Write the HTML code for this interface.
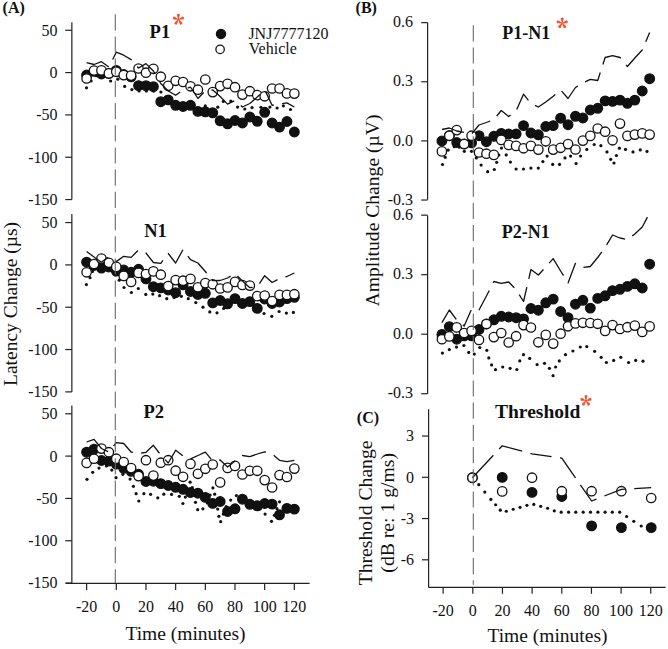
<!DOCTYPE html>
<html><head><meta charset="utf-8"><style>
html,body{margin:0;padding:0;background:#fff;}
svg{display:block;font-family:"Liberation Serif", serif;}
</style></head><body>
<svg width="668" height="649" viewBox="0 0 668 649">
<rect width="668" height="649" fill="#fff"/>
<line x1="71.85" y1="22.20" x2="71.85" y2="199.50" stroke="#222" stroke-width="1.2" />
<line x1="65.25" y1="30.27" x2="71.85" y2="30.27" stroke="#222" stroke-width="1.2" />
<text x="57.60" y="35.67" font-size="16" text-anchor="end" font-weight="normal" fill="#111" >50</text>
<line x1="65.25" y1="72.60" x2="71.85" y2="72.60" stroke="#222" stroke-width="1.2" />
<text x="57.60" y="78.00" font-size="16" text-anchor="end" font-weight="normal" fill="#111" >0</text>
<line x1="65.25" y1="114.92" x2="71.85" y2="114.92" stroke="#222" stroke-width="1.2" />
<text x="57.60" y="120.33" font-size="16" text-anchor="end" font-weight="normal" fill="#111" >-50</text>
<line x1="65.25" y1="157.25" x2="71.85" y2="157.25" stroke="#222" stroke-width="1.2" />
<text x="57.60" y="162.65" font-size="16" text-anchor="end" font-weight="normal" fill="#111" >-100</text>
<line x1="65.25" y1="199.57" x2="71.85" y2="199.57" stroke="#222" stroke-width="1.2" />
<text x="57.60" y="204.97" font-size="16" text-anchor="end" font-weight="normal" fill="#111" >-150</text>
<line x1="71.85" y1="214.00" x2="71.85" y2="392.00" stroke="#222" stroke-width="1.2" />
<line x1="65.25" y1="222.57" x2="71.85" y2="222.57" stroke="#222" stroke-width="1.2" />
<text x="57.60" y="227.97" font-size="16" text-anchor="end" font-weight="normal" fill="#111" >50</text>
<line x1="65.25" y1="264.90" x2="71.85" y2="264.90" stroke="#222" stroke-width="1.2" />
<text x="57.60" y="270.30" font-size="16" text-anchor="end" font-weight="normal" fill="#111" >0</text>
<line x1="65.25" y1="307.22" x2="71.85" y2="307.22" stroke="#222" stroke-width="1.2" />
<text x="57.60" y="312.62" font-size="16" text-anchor="end" font-weight="normal" fill="#111" >-50</text>
<line x1="65.25" y1="349.55" x2="71.85" y2="349.55" stroke="#222" stroke-width="1.2" />
<text x="57.60" y="354.95" font-size="16" text-anchor="end" font-weight="normal" fill="#111" >-100</text>
<line x1="65.25" y1="391.88" x2="71.85" y2="391.88" stroke="#222" stroke-width="1.2" />
<text x="57.60" y="397.27" font-size="16" text-anchor="end" font-weight="normal" fill="#111" >-150</text>
<line x1="71.85" y1="405.60" x2="71.85" y2="583.40" stroke="#222" stroke-width="1.2" />
<line x1="65.25" y1="413.78" x2="71.85" y2="413.78" stroke="#222" stroke-width="1.2" />
<text x="57.60" y="419.18" font-size="16" text-anchor="end" font-weight="normal" fill="#111" >50</text>
<line x1="65.25" y1="456.10" x2="71.85" y2="456.10" stroke="#222" stroke-width="1.2" />
<text x="57.60" y="461.50" font-size="16" text-anchor="end" font-weight="normal" fill="#111" >0</text>
<line x1="65.25" y1="498.43" x2="71.85" y2="498.43" stroke="#222" stroke-width="1.2" />
<text x="57.60" y="503.82" font-size="16" text-anchor="end" font-weight="normal" fill="#111" >-50</text>
<line x1="65.25" y1="540.75" x2="71.85" y2="540.75" stroke="#222" stroke-width="1.2" />
<text x="57.60" y="546.15" font-size="16" text-anchor="end" font-weight="normal" fill="#111" >-100</text>
<line x1="65.25" y1="583.08" x2="71.85" y2="583.08" stroke="#222" stroke-width="1.2" />
<text x="57.60" y="588.48" font-size="16" text-anchor="end" font-weight="normal" fill="#111" >-150</text>
<line x1="65.80" y1="583.40" x2="309.60" y2="583.40" stroke="#222" stroke-width="1.2" />
<line x1="86.63" y1="583.40" x2="86.63" y2="590.00" stroke="#222" stroke-width="1.2" />
<text x="86.63" y="611.80" font-size="16" text-anchor="middle" font-weight="normal" fill="#111" >-20</text>
<line x1="116.30" y1="583.40" x2="116.30" y2="590.00" stroke="#222" stroke-width="1.2" />
<text x="116.30" y="611.80" font-size="16" text-anchor="middle" font-weight="normal" fill="#111" >0</text>
<line x1="145.97" y1="583.40" x2="145.97" y2="590.00" stroke="#222" stroke-width="1.2" />
<text x="145.97" y="611.80" font-size="16" text-anchor="middle" font-weight="normal" fill="#111" >20</text>
<line x1="175.64" y1="583.40" x2="175.64" y2="590.00" stroke="#222" stroke-width="1.2" />
<text x="175.64" y="611.80" font-size="16" text-anchor="middle" font-weight="normal" fill="#111" >40</text>
<line x1="205.32" y1="583.40" x2="205.32" y2="590.00" stroke="#222" stroke-width="1.2" />
<text x="205.32" y="611.80" font-size="16" text-anchor="middle" font-weight="normal" fill="#111" >60</text>
<line x1="234.99" y1="583.40" x2="234.99" y2="590.00" stroke="#222" stroke-width="1.2" />
<text x="234.99" y="611.80" font-size="16" text-anchor="middle" font-weight="normal" fill="#111" >80</text>
<line x1="264.66" y1="583.40" x2="264.66" y2="590.00" stroke="#222" stroke-width="1.2" />
<text x="264.66" y="611.80" font-size="16" text-anchor="middle" font-weight="normal" fill="#111" >100</text>
<line x1="294.33" y1="583.40" x2="294.33" y2="590.00" stroke="#222" stroke-width="1.2" />
<text x="294.33" y="611.80" font-size="16" text-anchor="middle" font-weight="normal" fill="#111" >120</text>
<text x="185.50" y="639.60" font-size="19.5" text-anchor="middle" font-weight="normal" fill="#111" >Time (minutes)</text>
<text transform="translate(17.4,304) rotate(-90)" font-size="19.5" text-anchor="middle" fill="#111">Latency Change (µs)</text>
<line x1="427.60" y1="22.40" x2="427.60" y2="199.80" stroke="#222" stroke-width="1.2" />
<line x1="421.20" y1="22.64" x2="427.60" y2="22.64" stroke="#222" stroke-width="1.2" />
<text x="413.00" y="27.24" font-size="16" text-anchor="end" font-weight="normal" fill="#111" >0.6</text>
<line x1="421.20" y1="81.77" x2="427.60" y2="81.77" stroke="#222" stroke-width="1.2" />
<text x="413.00" y="86.37" font-size="16" text-anchor="end" font-weight="normal" fill="#111" >0.3</text>
<line x1="421.20" y1="140.90" x2="427.60" y2="140.90" stroke="#222" stroke-width="1.2" />
<text x="413.00" y="145.50" font-size="16" text-anchor="end" font-weight="normal" fill="#111" >0.0</text>
<line x1="421.20" y1="200.03" x2="427.60" y2="200.03" stroke="#222" stroke-width="1.2" />
<text x="413.00" y="204.63" font-size="16" text-anchor="end" font-weight="normal" fill="#111" >-0.3</text>
<line x1="427.60" y1="215.50" x2="427.60" y2="393.70" stroke="#222" stroke-width="1.2" />
<line x1="421.20" y1="215.16" x2="427.60" y2="215.16" stroke="#222" stroke-width="1.2" />
<text x="413.00" y="219.76" font-size="16" text-anchor="end" font-weight="normal" fill="#111" >0.6</text>
<line x1="421.20" y1="274.68" x2="427.60" y2="274.68" stroke="#222" stroke-width="1.2" />
<text x="413.00" y="279.28" font-size="16" text-anchor="end" font-weight="normal" fill="#111" >0.3</text>
<line x1="421.20" y1="334.20" x2="427.60" y2="334.20" stroke="#222" stroke-width="1.2" />
<text x="413.00" y="338.80" font-size="16" text-anchor="end" font-weight="normal" fill="#111" >0.0</text>
<line x1="421.20" y1="393.72" x2="427.60" y2="393.72" stroke="#222" stroke-width="1.2" />
<text x="413.00" y="398.32" font-size="16" text-anchor="end" font-weight="normal" fill="#111" >-0.3</text>
<text transform="translate(378.6,210.5) rotate(-90)" font-size="19.6" text-anchor="middle" fill="#111">Amplitude Change (µV)</text>
<line x1="428.60" y1="409.20" x2="428.60" y2="587.40" stroke="#222" stroke-width="1.2" />
<line x1="422.00" y1="436.05" x2="428.60" y2="436.05" stroke="#222" stroke-width="1.2" />
<text x="414.00" y="441.25" font-size="16" text-anchor="end" font-weight="normal" fill="#111" >3</text>
<line x1="422.00" y1="477.30" x2="428.60" y2="477.30" stroke="#222" stroke-width="1.2" />
<text x="414.00" y="482.50" font-size="16" text-anchor="end" font-weight="normal" fill="#111" >0</text>
<line x1="422.00" y1="518.55" x2="428.60" y2="518.55" stroke="#222" stroke-width="1.2" />
<text x="414.00" y="523.75" font-size="16" text-anchor="end" font-weight="normal" fill="#111" >-3</text>
<line x1="422.00" y1="559.80" x2="428.60" y2="559.80" stroke="#222" stroke-width="1.2" />
<text x="414.00" y="565.00" font-size="16" text-anchor="end" font-weight="normal" fill="#111" >-6</text>
<line x1="428.60" y1="587.40" x2="665.60" y2="587.40" stroke="#222" stroke-width="1.2" />
<line x1="443.14" y1="587.40" x2="443.14" y2="593.80" stroke="#222" stroke-width="1.2" />
<text x="443.14" y="615.80" font-size="16" text-anchor="middle" font-weight="normal" fill="#111" >-20</text>
<line x1="472.80" y1="587.40" x2="472.80" y2="593.80" stroke="#222" stroke-width="1.2" />
<text x="472.80" y="615.80" font-size="16" text-anchor="middle" font-weight="normal" fill="#111" >0</text>
<line x1="502.46" y1="587.40" x2="502.46" y2="593.80" stroke="#222" stroke-width="1.2" />
<text x="502.46" y="615.80" font-size="16" text-anchor="middle" font-weight="normal" fill="#111" >20</text>
<line x1="532.12" y1="587.40" x2="532.12" y2="593.80" stroke="#222" stroke-width="1.2" />
<text x="532.12" y="615.80" font-size="16" text-anchor="middle" font-weight="normal" fill="#111" >40</text>
<line x1="561.78" y1="587.40" x2="561.78" y2="593.80" stroke="#222" stroke-width="1.2" />
<text x="561.78" y="615.80" font-size="16" text-anchor="middle" font-weight="normal" fill="#111" >60</text>
<line x1="591.44" y1="587.40" x2="591.44" y2="593.80" stroke="#222" stroke-width="1.2" />
<text x="591.44" y="615.80" font-size="16" text-anchor="middle" font-weight="normal" fill="#111" >80</text>
<line x1="621.10" y1="587.40" x2="621.10" y2="593.80" stroke="#222" stroke-width="1.2" />
<text x="621.10" y="615.80" font-size="16" text-anchor="middle" font-weight="normal" fill="#111" >100</text>
<line x1="650.76" y1="587.40" x2="650.76" y2="593.80" stroke="#222" stroke-width="1.2" />
<text x="650.76" y="615.80" font-size="16" text-anchor="middle" font-weight="normal" fill="#111" >120</text>
<text x="547.50" y="642.40" font-size="19.5" text-anchor="middle" font-weight="normal" fill="#111" >Time (minutes)</text>
<text transform="translate(372.4,512.9) rotate(-90)" font-size="19.7" text-anchor="middle" fill="#111">Threshold Change</text>
<text transform="translate(394.4,512.8) rotate(-90)" font-size="19.7" text-anchor="middle" fill="#111">(dB re: 1 g/ms)</text>
<text x="2.60" y="12.90" font-size="16" text-anchor="start" font-weight="bold" fill="#111" >(A)</text>
<text x="355.60" y="12.60" font-size="16" text-anchor="start" font-weight="bold" fill="#111" >(B)</text>
<text x="356.80" y="423.10" font-size="16" text-anchor="start" font-weight="bold" fill="#111" >(C)</text>
<text x="149.60" y="37.70" font-size="18.5" text-anchor="start" font-weight="bold" fill="#111" >P1</text>
<text x="144.20" y="236.50" font-size="18.5" text-anchor="start" font-weight="bold" fill="#111" >N1</text>
<text x="143.40" y="417.80" font-size="18.5" text-anchor="start" font-weight="bold" fill="#111" >P2</text>
<text x="502.20" y="38.50" font-size="18" text-anchor="start" font-weight="bold" fill="#111" >P1-N1</text>
<text x="501.80" y="237.70" font-size="18" text-anchor="start" font-weight="bold" fill="#111" >P2-N1</text>
<text x="495.00" y="417.70" font-size="19.5" text-anchor="start" font-weight="bold" fill="#111" >Threshold</text>
<g transform="translate(178.40,19.55) scale(1.0)" fill="#f05532">
<path transform="rotate(0)" d="M -0.3,0 L -1.3,-3.85 A 1.4,1.4 0 1,1 1.3,-3.85 L 0.3,0 Z"/>
<path transform="rotate(72)" d="M -0.3,0 L -1.3,-3.85 A 1.4,1.4 0 1,1 1.3,-3.85 L 0.3,0 Z"/>
<path transform="rotate(144)" d="M -0.3,0 L -1.3,-3.85 A 1.4,1.4 0 1,1 1.3,-3.85 L 0.3,0 Z"/>
<path transform="rotate(216)" d="M -0.3,0 L -1.3,-3.85 A 1.4,1.4 0 1,1 1.3,-3.85 L 0.3,0 Z"/>
<path transform="rotate(288)" d="M -0.3,0 L -1.3,-3.85 A 1.4,1.4 0 1,1 1.3,-3.85 L 0.3,0 Z"/>
<circle r="0.75"/></g>
<g transform="translate(562.20,23.20) scale(1.0)" fill="#f05532">
<path transform="rotate(0)" d="M -0.3,0 L -1.3,-3.85 A 1.4,1.4 0 1,1 1.3,-3.85 L 0.3,0 Z"/>
<path transform="rotate(72)" d="M -0.3,0 L -1.3,-3.85 A 1.4,1.4 0 1,1 1.3,-3.85 L 0.3,0 Z"/>
<path transform="rotate(144)" d="M -0.3,0 L -1.3,-3.85 A 1.4,1.4 0 1,1 1.3,-3.85 L 0.3,0 Z"/>
<path transform="rotate(216)" d="M -0.3,0 L -1.3,-3.85 A 1.4,1.4 0 1,1 1.3,-3.85 L 0.3,0 Z"/>
<path transform="rotate(288)" d="M -0.3,0 L -1.3,-3.85 A 1.4,1.4 0 1,1 1.3,-3.85 L 0.3,0 Z"/>
<circle r="0.75"/></g>
<g transform="translate(586.00,400.70) scale(1.0)" fill="#f05532">
<path transform="rotate(0)" d="M -0.3,0 L -1.3,-3.85 A 1.4,1.4 0 1,1 1.3,-3.85 L 0.3,0 Z"/>
<path transform="rotate(72)" d="M -0.3,0 L -1.3,-3.85 A 1.4,1.4 0 1,1 1.3,-3.85 L 0.3,0 Z"/>
<path transform="rotate(144)" d="M -0.3,0 L -1.3,-3.85 A 1.4,1.4 0 1,1 1.3,-3.85 L 0.3,0 Z"/>
<path transform="rotate(216)" d="M -0.3,0 L -1.3,-3.85 A 1.4,1.4 0 1,1 1.3,-3.85 L 0.3,0 Z"/>
<path transform="rotate(288)" d="M -0.3,0 L -1.3,-3.85 A 1.4,1.4 0 1,1 1.3,-3.85 L 0.3,0 Z"/>
<circle r="0.75"/></g>
<circle cx="221.00" cy="33.90" r="4.6" fill="#111" stroke="#111" stroke-width="1.3"/>
<circle cx="220.10" cy="49.40" r="4.2" fill="#fff" stroke="#111" stroke-width="1.3"/>
<text x="248.40" y="39.30" font-size="16" text-anchor="start" font-weight="normal" fill="#111" >JNJ7777120</text>
<text x="248.80" y="53.90" font-size="16" text-anchor="start" font-weight="normal" fill="#111" >Vehicle</text>
<circle cx="86.50" cy="87.80" r="1.6" fill="#111"/>
<circle cx="91.10" cy="81.00" r="1.6" fill="#111"/>
<circle cx="110.60" cy="81.00" r="1.6" fill="#111"/>
<circle cx="117.80" cy="79.20" r="1.6" fill="#111"/>
<circle cx="124.70" cy="86.40" r="1.6" fill="#111"/>
<circle cx="131.90" cy="89.60" r="1.6" fill="#111"/>
<circle cx="160.90" cy="92.00" r="1.6" fill="#111"/>
<circle cx="205.30" cy="105.90" r="1.6" fill="#111"/>
<circle cx="217.80" cy="107.20" r="1.6" fill="#111"/>
<circle cx="223.30" cy="101.40" r="1.6" fill="#111"/>
<circle cx="230.80" cy="101.00" r="1.6" fill="#111"/>
<circle cx="237.60" cy="107.10" r="1.6" fill="#111"/>
<circle cx="244.80" cy="109.00" r="1.6" fill="#111"/>
<circle cx="252.00" cy="107.60" r="1.6" fill="#111"/>
<circle cx="269.90" cy="107.10" r="1.6" fill="#111"/>
<circle cx="277.10" cy="108.00" r="1.6" fill="#111"/>
<circle cx="283.40" cy="105.80" r="1.6" fill="#111"/>
<circle cx="290.50" cy="109.50" r="1.6" fill="#111"/>
<circle cx="96.16" cy="75.71" r="1.6" fill="#111"/>
<circle cx="103.61" cy="76.47" r="1.6" fill="#111"/>
<circle cx="139.05" cy="91.00" r="1.6" fill="#111"/>
<circle cx="146.35" cy="91.00" r="1.6" fill="#111"/>
<circle cx="153.64" cy="91.03" r="1.6" fill="#111"/>
<circle cx="165.77" cy="97.36" r="1.6" fill="#111"/>
<circle cx="171.60" cy="101.37" r="1.6" fill="#111"/>
<circle cx="178.51" cy="103.39" r="1.6" fill="#111"/>
<circle cx="185.71" cy="104.00" r="1.6" fill="#111"/>
<circle cx="192.53" cy="105.38" r="1.6" fill="#111"/>
<circle cx="198.61" cy="108.69" r="1.6" fill="#111"/>
<circle cx="211.50" cy="109.30" r="1.6" fill="#111"/>
<circle cx="260.94" cy="107.25" r="1.6" fill="#111"/>
<circle cx="86.60" cy="75.00" r="4.8" fill="#111" stroke="#111" stroke-width="1.3"/>
<circle cx="94.02" cy="71.30" r="4.8" fill="#111" stroke="#111" stroke-width="1.3"/>
<circle cx="101.44" cy="74.00" r="4.8" fill="#111" stroke="#111" stroke-width="1.3"/>
<circle cx="108.86" cy="73.50" r="4.8" fill="#111" stroke="#111" stroke-width="1.3"/>
<circle cx="116.28" cy="70.40" r="4.8" fill="#111" stroke="#111" stroke-width="1.3"/>
<circle cx="123.70" cy="74.50" r="4.8" fill="#111" stroke="#111" stroke-width="1.3"/>
<circle cx="131.12" cy="76.80" r="4.8" fill="#111" stroke="#111" stroke-width="1.3"/>
<circle cx="138.54" cy="85.60" r="4.8" fill="#111" stroke="#111" stroke-width="1.3"/>
<circle cx="145.96" cy="85.70" r="4.8" fill="#111" stroke="#111" stroke-width="1.3"/>
<circle cx="153.38" cy="86.70" r="4.8" fill="#111" stroke="#111" stroke-width="1.3"/>
<circle cx="160.80" cy="101.70" r="4.8" fill="#111" stroke="#111" stroke-width="1.3"/>
<circle cx="168.22" cy="99.90" r="4.8" fill="#111" stroke="#111" stroke-width="1.3"/>
<circle cx="175.64" cy="105.30" r="4.8" fill="#111" stroke="#111" stroke-width="1.3"/>
<circle cx="183.06" cy="106.50" r="4.8" fill="#111" stroke="#111" stroke-width="1.3"/>
<circle cx="190.48" cy="105.30" r="4.8" fill="#111" stroke="#111" stroke-width="1.3"/>
<circle cx="197.90" cy="111.40" r="4.8" fill="#111" stroke="#111" stroke-width="1.3"/>
<circle cx="205.32" cy="111.80" r="4.8" fill="#111" stroke="#111" stroke-width="1.3"/>
<circle cx="212.74" cy="112.80" r="4.8" fill="#111" stroke="#111" stroke-width="1.3"/>
<circle cx="220.16" cy="120.80" r="4.8" fill="#111" stroke="#111" stroke-width="1.3"/>
<circle cx="227.58" cy="123.80" r="4.8" fill="#111" stroke="#111" stroke-width="1.3"/>
<circle cx="235.00" cy="120.50" r="4.8" fill="#111" stroke="#111" stroke-width="1.3"/>
<circle cx="242.42" cy="123.00" r="4.8" fill="#111" stroke="#111" stroke-width="1.3"/>
<circle cx="249.84" cy="117.00" r="4.8" fill="#111" stroke="#111" stroke-width="1.3"/>
<circle cx="257.26" cy="121.30" r="4.8" fill="#111" stroke="#111" stroke-width="1.3"/>
<circle cx="264.68" cy="112.30" r="4.8" fill="#111" stroke="#111" stroke-width="1.3"/>
<circle cx="272.10" cy="123.00" r="4.8" fill="#111" stroke="#111" stroke-width="1.3"/>
<circle cx="279.52" cy="127.10" r="4.8" fill="#111" stroke="#111" stroke-width="1.3"/>
<circle cx="286.94" cy="121.50" r="4.8" fill="#111" stroke="#111" stroke-width="1.3"/>
<circle cx="294.36" cy="132.00" r="4.8" fill="#111" stroke="#111" stroke-width="1.3"/>
<circle cx="86.60" cy="78.50" r="4.7" fill="#fff" stroke="#111" stroke-width="1.3"/>
<circle cx="94.02" cy="70.50" r="4.7" fill="#fff" stroke="#111" stroke-width="1.3"/>
<circle cx="101.44" cy="70.40" r="4.7" fill="#fff" stroke="#111" stroke-width="1.3"/>
<circle cx="108.86" cy="73.40" r="4.7" fill="#fff" stroke="#111" stroke-width="1.3"/>
<circle cx="116.28" cy="71.80" r="4.7" fill="#fff" stroke="#111" stroke-width="1.3"/>
<circle cx="123.70" cy="75.10" r="4.7" fill="#fff" stroke="#111" stroke-width="1.3"/>
<circle cx="131.12" cy="75.60" r="4.7" fill="#fff" stroke="#111" stroke-width="1.3"/>
<circle cx="138.54" cy="68.50" r="4.7" fill="#fff" stroke="#111" stroke-width="1.3"/>
<circle cx="145.96" cy="72.70" r="4.7" fill="#fff" stroke="#111" stroke-width="1.3"/>
<circle cx="153.38" cy="68.80" r="4.7" fill="#fff" stroke="#111" stroke-width="1.3"/>
<circle cx="160.80" cy="76.70" r="4.7" fill="#fff" stroke="#111" stroke-width="1.3"/>
<circle cx="168.22" cy="85.80" r="4.7" fill="#fff" stroke="#111" stroke-width="1.3"/>
<circle cx="175.64" cy="80.80" r="4.7" fill="#fff" stroke="#111" stroke-width="1.3"/>
<circle cx="183.06" cy="82.00" r="4.7" fill="#fff" stroke="#111" stroke-width="1.3"/>
<circle cx="190.48" cy="86.30" r="4.7" fill="#fff" stroke="#111" stroke-width="1.3"/>
<circle cx="197.90" cy="89.70" r="4.7" fill="#fff" stroke="#111" stroke-width="1.3"/>
<circle cx="205.32" cy="79.50" r="4.7" fill="#fff" stroke="#111" stroke-width="1.3"/>
<circle cx="212.74" cy="92.10" r="4.7" fill="#fff" stroke="#111" stroke-width="1.3"/>
<circle cx="220.16" cy="86.10" r="4.7" fill="#fff" stroke="#111" stroke-width="1.3"/>
<circle cx="227.58" cy="83.80" r="4.7" fill="#fff" stroke="#111" stroke-width="1.3"/>
<circle cx="235.00" cy="87.20" r="4.7" fill="#fff" stroke="#111" stroke-width="1.3"/>
<circle cx="242.42" cy="94.60" r="4.7" fill="#fff" stroke="#111" stroke-width="1.3"/>
<circle cx="249.84" cy="91.20" r="4.7" fill="#fff" stroke="#111" stroke-width="1.3"/>
<circle cx="257.26" cy="95.10" r="4.7" fill="#fff" stroke="#111" stroke-width="1.3"/>
<circle cx="264.68" cy="96.30" r="4.7" fill="#fff" stroke="#111" stroke-width="1.3"/>
<circle cx="272.10" cy="88.50" r="4.7" fill="#fff" stroke="#111" stroke-width="1.3"/>
<circle cx="279.52" cy="88.50" r="4.7" fill="#fff" stroke="#111" stroke-width="1.3"/>
<circle cx="286.94" cy="93.40" r="4.7" fill="#fff" stroke="#111" stroke-width="1.3"/>
<circle cx="294.36" cy="93.60" r="4.7" fill="#fff" stroke="#111" stroke-width="1.3"/>
<polyline points="86.60,62.60 94.02,64.50 101.44,61.70 108.86,67.00 116.28,52.20 123.70,55.20 131.12,59.60 138.54,68.00 145.96,63.60 153.38,71.00 160.80,83.50 168.22,91.00 175.64,95.30 183.06,90.00 190.48,87.00 197.90,98.50 205.32,90.80 212.74,90.00 220.16,96.50 227.58,104.10 235.00,100.50 242.42,107.00 249.84,103.50 257.26,97.00 264.68,89.70 272.10,105.30 279.52,104.00 286.94,102.90 294.36,107.00" fill="none" stroke="#111" stroke-width="1.3" stroke-dasharray="24.63 8.50 25.50 8.50 24.48 8.50 27.33 8.50 25.11 8.50 29.15 8.50 24.07 8.50 17.11 8.50 18.31 1000.00" stroke-dashoffset="0" stroke-linecap="butt" stroke-linejoin="round"/>
<circle cx="86.40" cy="284.60" r="1.6" fill="#111"/>
<circle cx="90.00" cy="277.70" r="1.6" fill="#111"/>
<circle cx="119.20" cy="280.20" r="1.6" fill="#111"/>
<circle cx="124.00" cy="287.50" r="1.6" fill="#111"/>
<circle cx="131.40" cy="292.50" r="1.6" fill="#111"/>
<circle cx="138.30" cy="288.50" r="1.6" fill="#111"/>
<circle cx="145.80" cy="294.40" r="1.6" fill="#111"/>
<circle cx="159.60" cy="295.70" r="1.6" fill="#111"/>
<circle cx="166.80" cy="298.70" r="1.6" fill="#111"/>
<circle cx="181.40" cy="296.30" r="1.6" fill="#111"/>
<circle cx="188.30" cy="298.70" r="1.6" fill="#111"/>
<circle cx="195.80" cy="302.60" r="1.6" fill="#111"/>
<circle cx="203.00" cy="307.20" r="1.6" fill="#111"/>
<circle cx="209.80" cy="311.90" r="1.6" fill="#111"/>
<circle cx="217.00" cy="312.80" r="1.6" fill="#111"/>
<circle cx="264.00" cy="313.50" r="1.6" fill="#111"/>
<circle cx="271.80" cy="316.30" r="1.6" fill="#111"/>
<circle cx="279.10" cy="311.50" r="1.6" fill="#111"/>
<circle cx="286.40" cy="313.10" r="1.6" fill="#111"/>
<circle cx="293.40" cy="312.40" r="1.6" fill="#111"/>
<circle cx="92.51" cy="271.39" r="1.6" fill="#111"/>
<circle cx="97.10" cy="268.00" r="1.6" fill="#111"/>
<circle cx="103.86" cy="268.33" r="1.6" fill="#111"/>
<circle cx="110.13" cy="270.19" r="1.6" fill="#111"/>
<circle cx="115.06" cy="274.85" r="1.6" fill="#111"/>
<circle cx="152.79" cy="294.04" r="1.6" fill="#111"/>
<circle cx="174.04" cy="297.43" r="1.6" fill="#111"/>
<circle cx="223.65" cy="308.44" r="1.6" fill="#111"/>
<circle cx="229.84" cy="303.78" r="1.6" fill="#111"/>
<circle cx="236.80" cy="301.73" r="1.6" fill="#111"/>
<circle cx="244.14" cy="303.77" r="1.6" fill="#111"/>
<circle cx="251.43" cy="304.28" r="1.6" fill="#111"/>
<circle cx="257.52" cy="309.15" r="1.6" fill="#111"/>
<circle cx="86.60" cy="262.20" r="4.8" fill="#111" stroke="#111" stroke-width="1.3"/>
<circle cx="94.02" cy="265.50" r="4.8" fill="#111" stroke="#111" stroke-width="1.3"/>
<circle cx="101.44" cy="268.10" r="4.8" fill="#111" stroke="#111" stroke-width="1.3"/>
<circle cx="108.86" cy="267.00" r="4.8" fill="#111" stroke="#111" stroke-width="1.3"/>
<circle cx="116.28" cy="271.10" r="4.8" fill="#111" stroke="#111" stroke-width="1.3"/>
<circle cx="123.70" cy="270.00" r="4.8" fill="#111" stroke="#111" stroke-width="1.3"/>
<circle cx="131.12" cy="272.30" r="4.8" fill="#111" stroke="#111" stroke-width="1.3"/>
<circle cx="138.54" cy="269.30" r="4.8" fill="#111" stroke="#111" stroke-width="1.3"/>
<circle cx="145.96" cy="278.90" r="4.8" fill="#111" stroke="#111" stroke-width="1.3"/>
<circle cx="153.38" cy="286.70" r="4.8" fill="#111" stroke="#111" stroke-width="1.3"/>
<circle cx="160.80" cy="287.90" r="4.8" fill="#111" stroke="#111" stroke-width="1.3"/>
<circle cx="168.22" cy="290.00" r="4.8" fill="#111" stroke="#111" stroke-width="1.3"/>
<circle cx="175.64" cy="292.70" r="4.8" fill="#111" stroke="#111" stroke-width="1.3"/>
<circle cx="183.06" cy="284.90" r="4.8" fill="#111" stroke="#111" stroke-width="1.3"/>
<circle cx="190.48" cy="291.50" r="4.8" fill="#111" stroke="#111" stroke-width="1.3"/>
<circle cx="197.90" cy="294.50" r="4.8" fill="#111" stroke="#111" stroke-width="1.3"/>
<circle cx="205.32" cy="293.30" r="4.8" fill="#111" stroke="#111" stroke-width="1.3"/>
<circle cx="212.74" cy="302.90" r="4.8" fill="#111" stroke="#111" stroke-width="1.3"/>
<circle cx="220.16" cy="300.50" r="4.8" fill="#111" stroke="#111" stroke-width="1.3"/>
<circle cx="227.58" cy="303.80" r="4.8" fill="#111" stroke="#111" stroke-width="1.3"/>
<circle cx="235.00" cy="298.60" r="4.8" fill="#111" stroke="#111" stroke-width="1.3"/>
<circle cx="242.42" cy="303.50" r="4.8" fill="#111" stroke="#111" stroke-width="1.3"/>
<circle cx="249.84" cy="301.60" r="4.8" fill="#111" stroke="#111" stroke-width="1.3"/>
<circle cx="257.26" cy="308.40" r="4.8" fill="#111" stroke="#111" stroke-width="1.3"/>
<circle cx="264.68" cy="299.00" r="4.8" fill="#111" stroke="#111" stroke-width="1.3"/>
<circle cx="272.10" cy="303.50" r="4.8" fill="#111" stroke="#111" stroke-width="1.3"/>
<circle cx="279.52" cy="302.00" r="4.8" fill="#111" stroke="#111" stroke-width="1.3"/>
<circle cx="286.94" cy="298.60" r="4.8" fill="#111" stroke="#111" stroke-width="1.3"/>
<circle cx="294.36" cy="297.30" r="4.8" fill="#111" stroke="#111" stroke-width="1.3"/>
<circle cx="86.60" cy="272.30" r="4.7" fill="#fff" stroke="#111" stroke-width="1.3"/>
<circle cx="94.02" cy="264.00" r="4.7" fill="#fff" stroke="#111" stroke-width="1.3"/>
<circle cx="101.44" cy="258.60" r="4.7" fill="#fff" stroke="#111" stroke-width="1.3"/>
<circle cx="108.86" cy="262.80" r="4.7" fill="#fff" stroke="#111" stroke-width="1.3"/>
<circle cx="116.28" cy="266.90" r="4.7" fill="#fff" stroke="#111" stroke-width="1.3"/>
<circle cx="123.70" cy="275.90" r="4.7" fill="#fff" stroke="#111" stroke-width="1.3"/>
<circle cx="131.12" cy="281.90" r="4.7" fill="#fff" stroke="#111" stroke-width="1.3"/>
<circle cx="138.54" cy="272.90" r="4.7" fill="#fff" stroke="#111" stroke-width="1.3"/>
<circle cx="145.96" cy="274.10" r="4.7" fill="#fff" stroke="#111" stroke-width="1.3"/>
<circle cx="153.38" cy="271.40" r="4.7" fill="#fff" stroke="#111" stroke-width="1.3"/>
<circle cx="160.80" cy="274.70" r="4.7" fill="#fff" stroke="#111" stroke-width="1.3"/>
<circle cx="168.22" cy="286.10" r="4.7" fill="#fff" stroke="#111" stroke-width="1.3"/>
<circle cx="175.64" cy="280.10" r="4.7" fill="#fff" stroke="#111" stroke-width="1.3"/>
<circle cx="183.06" cy="280.70" r="4.7" fill="#fff" stroke="#111" stroke-width="1.3"/>
<circle cx="190.48" cy="278.90" r="4.7" fill="#fff" stroke="#111" stroke-width="1.3"/>
<circle cx="197.90" cy="287.30" r="4.7" fill="#fff" stroke="#111" stroke-width="1.3"/>
<circle cx="205.32" cy="283.10" r="4.7" fill="#fff" stroke="#111" stroke-width="1.3"/>
<circle cx="212.74" cy="284.30" r="4.7" fill="#fff" stroke="#111" stroke-width="1.3"/>
<circle cx="220.16" cy="288.50" r="4.7" fill="#fff" stroke="#111" stroke-width="1.3"/>
<circle cx="227.58" cy="287.40" r="4.7" fill="#fff" stroke="#111" stroke-width="1.3"/>
<circle cx="235.00" cy="281.90" r="4.7" fill="#fff" stroke="#111" stroke-width="1.3"/>
<circle cx="242.42" cy="285.00" r="4.7" fill="#fff" stroke="#111" stroke-width="1.3"/>
<circle cx="249.84" cy="285.60" r="4.7" fill="#fff" stroke="#111" stroke-width="1.3"/>
<circle cx="257.26" cy="296.10" r="4.7" fill="#fff" stroke="#111" stroke-width="1.3"/>
<circle cx="264.68" cy="295.50" r="4.7" fill="#fff" stroke="#111" stroke-width="1.3"/>
<circle cx="272.10" cy="301.00" r="4.7" fill="#fff" stroke="#111" stroke-width="1.3"/>
<circle cx="279.52" cy="294.90" r="4.7" fill="#fff" stroke="#111" stroke-width="1.3"/>
<circle cx="286.94" cy="294.90" r="4.7" fill="#fff" stroke="#111" stroke-width="1.3"/>
<circle cx="294.36" cy="294.20" r="4.7" fill="#fff" stroke="#111" stroke-width="1.3"/>
<polyline points="86.60,251.40 94.02,257.00 101.44,262.20 108.86,256.50 116.28,261.60 123.70,256.30 131.12,257.40 138.54,250.00 145.96,253.00 153.38,262.50 160.80,263.30 168.22,253.50 175.64,263.00 183.06,249.50 190.48,259.60 197.90,263.00 205.32,271.50 212.74,280.70 220.16,280.50 227.58,278.00 235.00,273.50 242.42,281.00 249.84,287.70 257.26,287.00 264.68,275.70 272.10,282.50 279.52,278.50 286.94,276.50 294.36,273.00" fill="none" stroke="#111" stroke-width="1.3" stroke-dasharray="26.40 8.50 28.10 8.50 23.43 8.50 27.36 8.50 25.92 8.50 20.03 8.50 20.03 8.50 25.79 8.50 14.67 1000.00" stroke-dashoffset="0" stroke-linecap="butt" stroke-linejoin="round"/>
<circle cx="87.00" cy="479.30" r="1.6" fill="#111"/>
<circle cx="92.70" cy="472.30" r="1.6" fill="#111"/>
<circle cx="99.00" cy="468.10" r="1.6" fill="#111"/>
<circle cx="106.40" cy="465.90" r="1.6" fill="#111"/>
<circle cx="111.80" cy="470.10" r="1.6" fill="#111"/>
<circle cx="116.00" cy="477.70" r="1.6" fill="#111"/>
<circle cx="122.90" cy="474.30" r="1.6" fill="#111"/>
<circle cx="130.10" cy="479.10" r="1.6" fill="#111"/>
<circle cx="133.40" cy="486.30" r="1.6" fill="#111"/>
<circle cx="136.10" cy="493.70" r="1.6" fill="#111"/>
<circle cx="138.80" cy="501.00" r="1.6" fill="#111"/>
<circle cx="143.90" cy="493.70" r="1.6" fill="#111"/>
<circle cx="150.60" cy="494.30" r="1.6" fill="#111"/>
<circle cx="157.80" cy="497.80" r="1.6" fill="#111"/>
<circle cx="163.80" cy="494.20" r="1.6" fill="#111"/>
<circle cx="179.30" cy="496.30" r="1.6" fill="#111"/>
<circle cx="182.90" cy="503.50" r="1.6" fill="#111"/>
<circle cx="190.10" cy="482.20" r="1.6" fill="#111"/>
<circle cx="192.20" cy="487.60" r="1.6" fill="#111"/>
<circle cx="195.50" cy="502.30" r="1.6" fill="#111"/>
<circle cx="197.70" cy="509.70" r="1.6" fill="#111"/>
<circle cx="202.90" cy="508.80" r="1.6" fill="#111"/>
<circle cx="212.90" cy="487.90" r="1.6" fill="#111"/>
<circle cx="214.70" cy="494.20" r="1.6" fill="#111"/>
<circle cx="217.70" cy="509.10" r="1.6" fill="#111"/>
<circle cx="218.90" cy="516.30" r="1.6" fill="#111"/>
<circle cx="220.70" cy="521.70" r="1.6" fill="#111"/>
<circle cx="230.70" cy="500.10" r="1.6" fill="#111"/>
<circle cx="236.40" cy="495.60" r="1.6" fill="#111"/>
<circle cx="265.10" cy="514.10" r="1.6" fill="#111"/>
<circle cx="271.50" cy="521.30" r="1.6" fill="#111"/>
<circle cx="279.50" cy="501.80" r="1.6" fill="#111"/>
<circle cx="171.56" cy="494.45" r="1.6" fill="#111"/>
<circle cx="185.35" cy="497.06" r="1.6" fill="#111"/>
<circle cx="187.79" cy="489.65" r="1.6" fill="#111"/>
<circle cx="193.97" cy="494.92" r="1.6" fill="#111"/>
<circle cx="207.30" cy="502.89" r="1.6" fill="#111"/>
<circle cx="210.09" cy="495.00" r="1.6" fill="#111"/>
<circle cx="215.80" cy="501.74" r="1.6" fill="#111"/>
<circle cx="223.27" cy="514.05" r="1.6" fill="#111"/>
<circle cx="226.20" cy="506.54" r="1.6" fill="#111"/>
<circle cx="243.11" cy="497.74" r="1.6" fill="#111"/>
<circle cx="247.98" cy="503.00" r="1.6" fill="#111"/>
<circle cx="254.23" cy="505.59" r="1.6" fill="#111"/>
<circle cx="260.06" cy="509.01" r="1.6" fill="#111"/>
<circle cx="274.44" cy="515.35" r="1.6" fill="#111"/>
<circle cx="276.98" cy="508.68" r="1.6" fill="#111"/>
<circle cx="285.95" cy="505.46" r="1.6" fill="#111"/>
<circle cx="293.11" cy="506.00" r="1.6" fill="#111"/>
<circle cx="86.60" cy="452.20" r="4.8" fill="#111" stroke="#111" stroke-width="1.3"/>
<circle cx="94.02" cy="449.20" r="4.8" fill="#111" stroke="#111" stroke-width="1.3"/>
<circle cx="101.44" cy="460.50" r="4.8" fill="#111" stroke="#111" stroke-width="1.3"/>
<circle cx="108.86" cy="461.10" r="4.8" fill="#111" stroke="#111" stroke-width="1.3"/>
<circle cx="116.28" cy="464.10" r="4.8" fill="#111" stroke="#111" stroke-width="1.3"/>
<circle cx="123.70" cy="468.30" r="4.8" fill="#111" stroke="#111" stroke-width="1.3"/>
<circle cx="131.12" cy="471.30" r="4.8" fill="#111" stroke="#111" stroke-width="1.3"/>
<circle cx="138.54" cy="474.30" r="4.8" fill="#111" stroke="#111" stroke-width="1.3"/>
<circle cx="145.96" cy="481.50" r="4.8" fill="#111" stroke="#111" stroke-width="1.3"/>
<circle cx="153.38" cy="481.20" r="4.8" fill="#111" stroke="#111" stroke-width="1.3"/>
<circle cx="160.80" cy="483.60" r="4.8" fill="#111" stroke="#111" stroke-width="1.3"/>
<circle cx="168.22" cy="485.50" r="4.8" fill="#111" stroke="#111" stroke-width="1.3"/>
<circle cx="175.64" cy="487.30" r="4.8" fill="#111" stroke="#111" stroke-width="1.3"/>
<circle cx="183.06" cy="489.30" r="4.8" fill="#111" stroke="#111" stroke-width="1.3"/>
<circle cx="190.48" cy="492.50" r="4.8" fill="#111" stroke="#111" stroke-width="1.3"/>
<circle cx="197.90" cy="493.20" r="4.8" fill="#111" stroke="#111" stroke-width="1.3"/>
<circle cx="205.32" cy="497.40" r="4.8" fill="#111" stroke="#111" stroke-width="1.3"/>
<circle cx="212.74" cy="503.40" r="4.8" fill="#111" stroke="#111" stroke-width="1.3"/>
<circle cx="220.16" cy="501.50" r="4.8" fill="#111" stroke="#111" stroke-width="1.3"/>
<circle cx="227.58" cy="511.50" r="4.8" fill="#111" stroke="#111" stroke-width="1.3"/>
<circle cx="235.00" cy="508.80" r="4.8" fill="#111" stroke="#111" stroke-width="1.3"/>
<circle cx="242.42" cy="499.20" r="4.8" fill="#111" stroke="#111" stroke-width="1.3"/>
<circle cx="249.84" cy="504.30" r="4.8" fill="#111" stroke="#111" stroke-width="1.3"/>
<circle cx="257.26" cy="505.80" r="4.8" fill="#111" stroke="#111" stroke-width="1.3"/>
<circle cx="264.68" cy="503.50" r="4.8" fill="#111" stroke="#111" stroke-width="1.3"/>
<circle cx="272.10" cy="504.10" r="4.8" fill="#111" stroke="#111" stroke-width="1.3"/>
<circle cx="279.52" cy="514.80" r="4.8" fill="#111" stroke="#111" stroke-width="1.3"/>
<circle cx="286.94" cy="508.40" r="4.8" fill="#111" stroke="#111" stroke-width="1.3"/>
<circle cx="294.36" cy="509.10" r="4.8" fill="#111" stroke="#111" stroke-width="1.3"/>
<circle cx="86.60" cy="462.90" r="4.7" fill="#fff" stroke="#111" stroke-width="1.3"/>
<circle cx="94.02" cy="458.70" r="4.7" fill="#fff" stroke="#111" stroke-width="1.3"/>
<circle cx="101.44" cy="448.60" r="4.7" fill="#fff" stroke="#111" stroke-width="1.3"/>
<circle cx="108.86" cy="452.20" r="4.7" fill="#fff" stroke="#111" stroke-width="1.3"/>
<circle cx="116.28" cy="458.70" r="4.7" fill="#fff" stroke="#111" stroke-width="1.3"/>
<circle cx="123.70" cy="462.10" r="4.7" fill="#fff" stroke="#111" stroke-width="1.3"/>
<circle cx="131.12" cy="468.10" r="4.7" fill="#fff" stroke="#111" stroke-width="1.3"/>
<circle cx="138.54" cy="476.10" r="4.7" fill="#fff" stroke="#111" stroke-width="1.3"/>
<circle cx="145.96" cy="460.20" r="4.7" fill="#fff" stroke="#111" stroke-width="1.3"/>
<circle cx="153.38" cy="475.60" r="4.7" fill="#fff" stroke="#111" stroke-width="1.3"/>
<circle cx="160.80" cy="462.70" r="4.7" fill="#fff" stroke="#111" stroke-width="1.3"/>
<circle cx="168.22" cy="460.20" r="4.7" fill="#fff" stroke="#111" stroke-width="1.3"/>
<circle cx="175.64" cy="470.70" r="4.7" fill="#fff" stroke="#111" stroke-width="1.3"/>
<circle cx="183.06" cy="476.80" r="4.7" fill="#fff" stroke="#111" stroke-width="1.3"/>
<circle cx="190.48" cy="463.90" r="4.7" fill="#fff" stroke="#111" stroke-width="1.3"/>
<circle cx="197.90" cy="473.80" r="4.7" fill="#fff" stroke="#111" stroke-width="1.3"/>
<circle cx="205.32" cy="468.80" r="4.7" fill="#fff" stroke="#111" stroke-width="1.3"/>
<circle cx="212.74" cy="464.50" r="4.7" fill="#fff" stroke="#111" stroke-width="1.3"/>
<circle cx="220.16" cy="482.40" r="4.7" fill="#fff" stroke="#111" stroke-width="1.3"/>
<circle cx="227.58" cy="467.90" r="4.7" fill="#fff" stroke="#111" stroke-width="1.3"/>
<circle cx="235.00" cy="465.90" r="4.7" fill="#fff" stroke="#111" stroke-width="1.3"/>
<circle cx="242.42" cy="474.50" r="4.7" fill="#fff" stroke="#111" stroke-width="1.3"/>
<circle cx="249.84" cy="470.80" r="4.7" fill="#fff" stroke="#111" stroke-width="1.3"/>
<circle cx="257.26" cy="470.80" r="4.7" fill="#fff" stroke="#111" stroke-width="1.3"/>
<circle cx="264.68" cy="480.10" r="4.7" fill="#fff" stroke="#111" stroke-width="1.3"/>
<circle cx="272.10" cy="487.50" r="4.7" fill="#fff" stroke="#111" stroke-width="1.3"/>
<circle cx="279.52" cy="475.10" r="4.7" fill="#fff" stroke="#111" stroke-width="1.3"/>
<circle cx="286.94" cy="477.00" r="4.7" fill="#fff" stroke="#111" stroke-width="1.3"/>
<circle cx="294.36" cy="468.60" r="4.7" fill="#fff" stroke="#111" stroke-width="1.3"/>
<polyline points="86.60,442.00 94.02,439.30 101.44,448.50 108.86,452.00 116.28,442.60 123.70,443.50 131.12,452.00 138.54,453.40 145.96,452.30 153.38,445.30 160.80,455.00 168.22,463.00 175.64,450.30 183.06,456.00 190.48,459.00 197.90,455.50 205.32,452.20 212.74,461.00 220.16,460.00 227.58,467.00 235.00,461.00 242.42,455.50 249.84,456.60 257.26,454.00 264.68,451.80 272.10,454.00 279.52,460.30 286.94,461.60 294.36,460.30" fill="none" stroke="#111" stroke-width="1.3" stroke-dasharray="27.06 8.50 24.88 8.50 24.96 8.50 28.38 8.50 25.53 8.50 21.21 8.50 24.82 8.50 27.71 1000.00" stroke-dashoffset="0" stroke-linecap="butt" stroke-linejoin="round"/>
<circle cx="442.50" cy="164.50" r="1.6" fill="#111"/>
<circle cx="445.20" cy="157.30" r="1.6" fill="#111"/>
<circle cx="448.20" cy="150.10" r="1.6" fill="#111"/>
<circle cx="464.30" cy="151.30" r="1.6" fill="#111"/>
<circle cx="471.50" cy="151.30" r="1.6" fill="#111"/>
<circle cx="476.30" cy="157.90" r="1.6" fill="#111"/>
<circle cx="481.10" cy="165.10" r="1.6" fill="#111"/>
<circle cx="487.70" cy="171.70" r="1.6" fill="#111"/>
<circle cx="494.30" cy="169.50" r="1.6" fill="#111"/>
<circle cx="496.70" cy="162.30" r="1.6" fill="#111"/>
<circle cx="501.50" cy="148.10" r="1.6" fill="#111"/>
<circle cx="506.20" cy="154.90" r="1.6" fill="#111"/>
<circle cx="510.40" cy="162.10" r="1.6" fill="#111"/>
<circle cx="516.10" cy="169.00" r="1.6" fill="#111"/>
<circle cx="523.50" cy="169.00" r="1.6" fill="#111"/>
<circle cx="530.90" cy="168.10" r="1.6" fill="#111"/>
<circle cx="538.30" cy="168.10" r="1.6" fill="#111"/>
<circle cx="542.90" cy="161.60" r="1.6" fill="#111"/>
<circle cx="547.10" cy="156.10" r="1.6" fill="#111"/>
<circle cx="552.70" cy="164.40" r="1.6" fill="#111"/>
<circle cx="559.50" cy="164.40" r="1.6" fill="#111"/>
<circle cx="565.00" cy="157.90" r="1.6" fill="#111"/>
<circle cx="570.60" cy="156.10" r="1.6" fill="#111"/>
<circle cx="576.10" cy="163.50" r="1.6" fill="#111"/>
<circle cx="580.60" cy="156.00" r="1.6" fill="#111"/>
<circle cx="586.80" cy="149.40" r="1.6" fill="#111"/>
<circle cx="594.20" cy="144.50" r="1.6" fill="#111"/>
<circle cx="600.90" cy="145.70" r="1.6" fill="#111"/>
<circle cx="607.00" cy="151.90" r="1.6" fill="#111"/>
<circle cx="610.70" cy="159.30" r="1.6" fill="#111"/>
<circle cx="614.00" cy="163.00" r="1.6" fill="#111"/>
<circle cx="616.40" cy="155.60" r="1.6" fill="#111"/>
<circle cx="619.40" cy="148.20" r="1.6" fill="#111"/>
<circle cx="625.50" cy="149.40" r="1.6" fill="#111"/>
<circle cx="633.00" cy="151.90" r="1.6" fill="#111"/>
<circle cx="640.30" cy="149.90" r="1.6" fill="#111"/>
<circle cx="647.00" cy="151.40" r="1.6" fill="#111"/>
<circle cx="454.19" cy="146.72" r="1.6" fill="#111"/>
<circle cx="459.33" cy="147.20" r="1.6" fill="#111"/>
<circle cx="498.85" cy="154.99" r="1.6" fill="#111"/>
<circle cx="441.90" cy="141.00" r="4.8" fill="#111" stroke="#111" stroke-width="1.3"/>
<circle cx="449.32" cy="135.70" r="4.8" fill="#111" stroke="#111" stroke-width="1.3"/>
<circle cx="456.74" cy="142.50" r="4.8" fill="#111" stroke="#111" stroke-width="1.3"/>
<circle cx="464.16" cy="144.00" r="4.8" fill="#111" stroke="#111" stroke-width="1.3"/>
<circle cx="471.58" cy="142.80" r="4.8" fill="#111" stroke="#111" stroke-width="1.3"/>
<circle cx="479.00" cy="135.70" r="4.8" fill="#111" stroke="#111" stroke-width="1.3"/>
<circle cx="486.42" cy="141.70" r="4.8" fill="#111" stroke="#111" stroke-width="1.3"/>
<circle cx="493.84" cy="136.30" r="4.8" fill="#111" stroke="#111" stroke-width="1.3"/>
<circle cx="501.26" cy="133.40" r="4.8" fill="#111" stroke="#111" stroke-width="1.3"/>
<circle cx="508.68" cy="134.00" r="4.8" fill="#111" stroke="#111" stroke-width="1.3"/>
<circle cx="516.10" cy="133.90" r="4.8" fill="#111" stroke="#111" stroke-width="1.3"/>
<circle cx="523.52" cy="125.60" r="4.8" fill="#111" stroke="#111" stroke-width="1.3"/>
<circle cx="530.94" cy="133.00" r="4.8" fill="#111" stroke="#111" stroke-width="1.3"/>
<circle cx="538.36" cy="134.80" r="4.8" fill="#111" stroke="#111" stroke-width="1.3"/>
<circle cx="545.78" cy="126.50" r="4.8" fill="#111" stroke="#111" stroke-width="1.3"/>
<circle cx="553.20" cy="125.60" r="4.8" fill="#111" stroke="#111" stroke-width="1.3"/>
<circle cx="560.62" cy="118.20" r="4.8" fill="#111" stroke="#111" stroke-width="1.3"/>
<circle cx="568.04" cy="124.70" r="4.8" fill="#111" stroke="#111" stroke-width="1.3"/>
<circle cx="575.46" cy="116.30" r="4.8" fill="#111" stroke="#111" stroke-width="1.3"/>
<circle cx="582.88" cy="118.00" r="4.8" fill="#111" stroke="#111" stroke-width="1.3"/>
<circle cx="590.30" cy="110.00" r="4.8" fill="#111" stroke="#111" stroke-width="1.3"/>
<circle cx="597.72" cy="108.30" r="4.8" fill="#111" stroke="#111" stroke-width="1.3"/>
<circle cx="605.14" cy="100.90" r="4.8" fill="#111" stroke="#111" stroke-width="1.3"/>
<circle cx="612.56" cy="101.40" r="4.8" fill="#111" stroke="#111" stroke-width="1.3"/>
<circle cx="619.98" cy="100.10" r="4.8" fill="#111" stroke="#111" stroke-width="1.3"/>
<circle cx="627.40" cy="103.30" r="4.8" fill="#111" stroke="#111" stroke-width="1.3"/>
<circle cx="634.82" cy="100.10" r="4.8" fill="#111" stroke="#111" stroke-width="1.3"/>
<circle cx="642.24" cy="91.00" r="4.8" fill="#111" stroke="#111" stroke-width="1.3"/>
<circle cx="649.66" cy="78.70" r="4.8" fill="#111" stroke="#111" stroke-width="1.3"/>
<circle cx="441.90" cy="151.40" r="4.7" fill="#fff" stroke="#111" stroke-width="1.3"/>
<circle cx="449.32" cy="135.70" r="4.7" fill="#fff" stroke="#111" stroke-width="1.3"/>
<circle cx="456.74" cy="130.10" r="4.7" fill="#fff" stroke="#111" stroke-width="1.3"/>
<circle cx="464.16" cy="144.00" r="4.7" fill="#fff" stroke="#111" stroke-width="1.3"/>
<circle cx="471.58" cy="135.70" r="4.7" fill="#fff" stroke="#111" stroke-width="1.3"/>
<circle cx="479.00" cy="152.50" r="4.7" fill="#fff" stroke="#111" stroke-width="1.3"/>
<circle cx="486.42" cy="153.70" r="4.7" fill="#fff" stroke="#111" stroke-width="1.3"/>
<circle cx="493.84" cy="154.90" r="4.7" fill="#fff" stroke="#111" stroke-width="1.3"/>
<circle cx="501.26" cy="139.90" r="4.7" fill="#fff" stroke="#111" stroke-width="1.3"/>
<circle cx="508.68" cy="144.90" r="4.7" fill="#fff" stroke="#111" stroke-width="1.3"/>
<circle cx="516.10" cy="145.90" r="4.7" fill="#fff" stroke="#111" stroke-width="1.3"/>
<circle cx="523.52" cy="148.30" r="4.7" fill="#fff" stroke="#111" stroke-width="1.3"/>
<circle cx="530.94" cy="145.90" r="4.7" fill="#fff" stroke="#111" stroke-width="1.3"/>
<circle cx="538.36" cy="149.60" r="4.7" fill="#fff" stroke="#111" stroke-width="1.3"/>
<circle cx="545.78" cy="141.30" r="4.7" fill="#fff" stroke="#111" stroke-width="1.3"/>
<circle cx="553.20" cy="149.60" r="4.7" fill="#fff" stroke="#111" stroke-width="1.3"/>
<circle cx="560.62" cy="147.80" r="4.7" fill="#fff" stroke="#111" stroke-width="1.3"/>
<circle cx="568.04" cy="144.10" r="4.7" fill="#fff" stroke="#111" stroke-width="1.3"/>
<circle cx="575.46" cy="149.50" r="4.7" fill="#fff" stroke="#111" stroke-width="1.3"/>
<circle cx="582.88" cy="140.60" r="4.7" fill="#fff" stroke="#111" stroke-width="1.3"/>
<circle cx="590.30" cy="135.90" r="4.7" fill="#fff" stroke="#111" stroke-width="1.3"/>
<circle cx="597.72" cy="128.50" r="4.7" fill="#fff" stroke="#111" stroke-width="1.3"/>
<circle cx="605.14" cy="131.70" r="4.7" fill="#fff" stroke="#111" stroke-width="1.3"/>
<circle cx="612.56" cy="140.30" r="4.7" fill="#fff" stroke="#111" stroke-width="1.3"/>
<circle cx="619.98" cy="123.60" r="4.7" fill="#fff" stroke="#111" stroke-width="1.3"/>
<circle cx="627.40" cy="135.90" r="4.7" fill="#fff" stroke="#111" stroke-width="1.3"/>
<circle cx="634.82" cy="134.60" r="4.7" fill="#fff" stroke="#111" stroke-width="1.3"/>
<circle cx="642.24" cy="133.40" r="4.7" fill="#fff" stroke="#111" stroke-width="1.3"/>
<circle cx="649.66" cy="134.60" r="4.7" fill="#fff" stroke="#111" stroke-width="1.3"/>
<polyline points="441.90,129.50 449.32,128.00 456.74,131.00 464.16,132.50 471.58,134.00 479.00,125.00 486.42,122.50 493.84,119.50 501.26,110.50 508.68,116.50 516.10,111.00 523.52,94.20 530.94,103.50 538.36,107.00 545.78,102.00 553.20,96.20 560.62,90.00 568.04,98.50 575.46,87.50 582.88,83.00 590.30,79.30 597.72,80.50 605.14,57.50 612.56,55.70 619.98,57.50 627.40,66.50 634.82,58.00 642.24,50.00 649.66,32.50" fill="none" stroke="#111" stroke-width="1.3" stroke-dasharray="22.88 8.50 22.88 8.50 18.97 8.50 24.64 8.50 24.82 8.50 25.75 8.50 21.61 8.50 23.71 8.50 24.71 8.50 15.02 1000.00" stroke-dashoffset="0" stroke-linecap="butt" stroke-linejoin="round"/>
<circle cx="442.40" cy="353.10" r="1.6" fill="#111"/>
<circle cx="449.30" cy="349.60" r="1.6" fill="#111"/>
<circle cx="463.90" cy="345.50" r="1.6" fill="#111"/>
<circle cx="468.70" cy="352.40" r="1.6" fill="#111"/>
<circle cx="474.30" cy="354.10" r="1.6" fill="#111"/>
<circle cx="479.80" cy="347.50" r="1.6" fill="#111"/>
<circle cx="486.80" cy="350.30" r="1.6" fill="#111"/>
<circle cx="488.80" cy="357.90" r="1.6" fill="#111"/>
<circle cx="491.60" cy="364.90" r="1.6" fill="#111"/>
<circle cx="495.50" cy="369.70" r="1.6" fill="#111"/>
<circle cx="502.70" cy="367.00" r="1.6" fill="#111"/>
<circle cx="510.10" cy="368.30" r="1.6" fill="#111"/>
<circle cx="516.90" cy="369.50" r="1.6" fill="#111"/>
<circle cx="519.80" cy="360.90" r="1.6" fill="#111"/>
<circle cx="523.50" cy="354.70" r="1.6" fill="#111"/>
<circle cx="529.70" cy="358.40" r="1.6" fill="#111"/>
<circle cx="537.10" cy="364.60" r="1.6" fill="#111"/>
<circle cx="544.50" cy="363.30" r="1.6" fill="#111"/>
<circle cx="549.40" cy="368.30" r="1.6" fill="#111"/>
<circle cx="553.10" cy="375.70" r="1.6" fill="#111"/>
<circle cx="555.60" cy="367.00" r="1.6" fill="#111"/>
<circle cx="559.30" cy="360.90" r="1.6" fill="#111"/>
<circle cx="565.50" cy="354.70" r="1.6" fill="#111"/>
<circle cx="572.90" cy="351.00" r="1.6" fill="#111"/>
<circle cx="580.30" cy="347.00" r="1.6" fill="#111"/>
<circle cx="586.80" cy="346.60" r="1.6" fill="#111"/>
<circle cx="594.60" cy="351.30" r="1.6" fill="#111"/>
<circle cx="601.20" cy="357.30" r="1.6" fill="#111"/>
<circle cx="606.40" cy="362.50" r="1.6" fill="#111"/>
<circle cx="613.70" cy="360.40" r="1.6" fill="#111"/>
<circle cx="620.80" cy="357.30" r="1.6" fill="#111"/>
<circle cx="628.60" cy="362.50" r="1.6" fill="#111"/>
<circle cx="635.70" cy="360.40" r="1.6" fill="#111"/>
<circle cx="643.00" cy="361.20" r="1.6" fill="#111"/>
<circle cx="456.47" cy="347.09" r="1.6" fill="#111"/>
<circle cx="441.90" cy="334.40" r="4.8" fill="#111" stroke="#111" stroke-width="1.3"/>
<circle cx="449.32" cy="326.70" r="4.8" fill="#111" stroke="#111" stroke-width="1.3"/>
<circle cx="456.74" cy="339.20" r="4.8" fill="#111" stroke="#111" stroke-width="1.3"/>
<circle cx="464.16" cy="335.80" r="4.8" fill="#111" stroke="#111" stroke-width="1.3"/>
<circle cx="471.58" cy="335.80" r="4.8" fill="#111" stroke="#111" stroke-width="1.3"/>
<circle cx="479.00" cy="329.50" r="4.8" fill="#111" stroke="#111" stroke-width="1.3"/>
<circle cx="486.42" cy="324.00" r="4.8" fill="#111" stroke="#111" stroke-width="1.3"/>
<circle cx="493.84" cy="319.80" r="4.8" fill="#111" stroke="#111" stroke-width="1.3"/>
<circle cx="501.26" cy="316.30" r="4.8" fill="#111" stroke="#111" stroke-width="1.3"/>
<circle cx="508.68" cy="317.00" r="4.8" fill="#111" stroke="#111" stroke-width="1.3"/>
<circle cx="516.10" cy="317.70" r="4.8" fill="#111" stroke="#111" stroke-width="1.3"/>
<circle cx="523.52" cy="318.90" r="4.8" fill="#111" stroke="#111" stroke-width="1.3"/>
<circle cx="530.94" cy="308.50" r="4.8" fill="#111" stroke="#111" stroke-width="1.3"/>
<circle cx="538.36" cy="310.20" r="4.8" fill="#111" stroke="#111" stroke-width="1.3"/>
<circle cx="545.78" cy="302.80" r="4.8" fill="#111" stroke="#111" stroke-width="1.3"/>
<circle cx="553.20" cy="299.10" r="4.8" fill="#111" stroke="#111" stroke-width="1.3"/>
<circle cx="560.62" cy="311.50" r="4.8" fill="#111" stroke="#111" stroke-width="1.3"/>
<circle cx="568.04" cy="317.70" r="4.8" fill="#111" stroke="#111" stroke-width="1.3"/>
<circle cx="575.46" cy="304.20" r="4.8" fill="#111" stroke="#111" stroke-width="1.3"/>
<circle cx="582.88" cy="300.30" r="4.8" fill="#111" stroke="#111" stroke-width="1.3"/>
<circle cx="590.30" cy="308.10" r="4.8" fill="#111" stroke="#111" stroke-width="1.3"/>
<circle cx="597.72" cy="298.40" r="4.8" fill="#111" stroke="#111" stroke-width="1.3"/>
<circle cx="605.14" cy="295.80" r="4.8" fill="#111" stroke="#111" stroke-width="1.3"/>
<circle cx="612.56" cy="290.60" r="4.8" fill="#111" stroke="#111" stroke-width="1.3"/>
<circle cx="619.98" cy="289.30" r="4.8" fill="#111" stroke="#111" stroke-width="1.3"/>
<circle cx="627.40" cy="286.40" r="4.8" fill="#111" stroke="#111" stroke-width="1.3"/>
<circle cx="634.82" cy="283.80" r="4.8" fill="#111" stroke="#111" stroke-width="1.3"/>
<circle cx="642.24" cy="288.00" r="4.8" fill="#111" stroke="#111" stroke-width="1.3"/>
<circle cx="649.66" cy="264.20" r="4.8" fill="#111" stroke="#111" stroke-width="1.3"/>
<circle cx="441.90" cy="339.20" r="4.7" fill="#fff" stroke="#111" stroke-width="1.3"/>
<circle cx="449.32" cy="336.40" r="4.7" fill="#fff" stroke="#111" stroke-width="1.3"/>
<circle cx="456.74" cy="327.40" r="4.7" fill="#fff" stroke="#111" stroke-width="1.3"/>
<circle cx="464.16" cy="333.00" r="4.7" fill="#fff" stroke="#111" stroke-width="1.3"/>
<circle cx="471.58" cy="330.90" r="4.7" fill="#fff" stroke="#111" stroke-width="1.3"/>
<circle cx="479.00" cy="339.90" r="4.7" fill="#fff" stroke="#111" stroke-width="1.3"/>
<circle cx="486.42" cy="324.00" r="4.7" fill="#fff" stroke="#111" stroke-width="1.3"/>
<circle cx="493.84" cy="337.10" r="4.7" fill="#fff" stroke="#111" stroke-width="1.3"/>
<circle cx="501.26" cy="333.00" r="4.7" fill="#fff" stroke="#111" stroke-width="1.3"/>
<circle cx="508.68" cy="342.50" r="4.7" fill="#fff" stroke="#111" stroke-width="1.3"/>
<circle cx="516.10" cy="336.20" r="4.7" fill="#fff" stroke="#111" stroke-width="1.3"/>
<circle cx="523.52" cy="325.10" r="4.7" fill="#fff" stroke="#111" stroke-width="1.3"/>
<circle cx="530.94" cy="327.50" r="4.7" fill="#fff" stroke="#111" stroke-width="1.3"/>
<circle cx="538.36" cy="342.30" r="4.7" fill="#fff" stroke="#111" stroke-width="1.3"/>
<circle cx="545.78" cy="334.90" r="4.7" fill="#fff" stroke="#111" stroke-width="1.3"/>
<circle cx="553.20" cy="343.60" r="4.7" fill="#fff" stroke="#111" stroke-width="1.3"/>
<circle cx="560.62" cy="333.70" r="4.7" fill="#fff" stroke="#111" stroke-width="1.3"/>
<circle cx="568.04" cy="326.30" r="4.7" fill="#fff" stroke="#111" stroke-width="1.3"/>
<circle cx="575.46" cy="323.40" r="4.7" fill="#fff" stroke="#111" stroke-width="1.3"/>
<circle cx="582.88" cy="322.80" r="4.7" fill="#fff" stroke="#111" stroke-width="1.3"/>
<circle cx="590.30" cy="323.00" r="4.7" fill="#fff" stroke="#111" stroke-width="1.3"/>
<circle cx="597.72" cy="323.80" r="4.7" fill="#fff" stroke="#111" stroke-width="1.3"/>
<circle cx="605.14" cy="330.90" r="4.7" fill="#fff" stroke="#111" stroke-width="1.3"/>
<circle cx="612.56" cy="325.10" r="4.7" fill="#fff" stroke="#111" stroke-width="1.3"/>
<circle cx="619.98" cy="329.00" r="4.7" fill="#fff" stroke="#111" stroke-width="1.3"/>
<circle cx="627.40" cy="327.20" r="4.7" fill="#fff" stroke="#111" stroke-width="1.3"/>
<circle cx="634.82" cy="325.60" r="4.7" fill="#fff" stroke="#111" stroke-width="1.3"/>
<circle cx="642.24" cy="331.90" r="4.7" fill="#fff" stroke="#111" stroke-width="1.3"/>
<circle cx="649.66" cy="326.40" r="4.7" fill="#fff" stroke="#111" stroke-width="1.3"/>
<polyline points="441.90,322.60 449.32,310.00 456.74,320.00 464.16,326.00 471.58,309.00 479.00,310.00 486.42,296.00 493.84,281.50 501.26,283.30 508.68,282.00 516.10,289.50 523.52,301.50 530.94,269.50 538.36,275.00 545.78,267.00 553.20,258.60 560.62,271.00 568.04,283.00 575.46,263.30 582.88,267.50 590.30,266.50 597.72,257.50 605.14,247.50 612.56,235.00 619.98,238.00 627.40,239.50 634.82,234.00 642.24,227.00 649.66,213.00" fill="none" stroke="#111" stroke-width="1.3" stroke-dasharray="26.28 8.50 19.37 8.50 22.10 8.50 24.69 8.50 22.97 8.50 26.30 8.50 26.03 8.50 21.76 8.50 25.55 8.50 24.69 8.50 24.50 8.50 1.21 1000.00" stroke-dashoffset="0" stroke-linecap="butt" stroke-linejoin="round"/>
<circle cx="472.50" cy="477.70" r="1.6" fill="#111"/>
<circle cx="478.80" cy="484.70" r="1.6" fill="#111"/>
<circle cx="484.80" cy="492.10" r="1.6" fill="#111"/>
<circle cx="490.90" cy="499.40" r="1.6" fill="#111"/>
<circle cx="554.30" cy="510.80" r="1.6" fill="#111"/>
<circle cx="561.20" cy="512.20" r="1.6" fill="#111"/>
<circle cx="568.60" cy="512.20" r="1.6" fill="#111"/>
<circle cx="575.80" cy="512.20" r="1.6" fill="#111"/>
<circle cx="583.20" cy="512.20" r="1.6" fill="#111"/>
<circle cx="590.50" cy="512.20" r="1.6" fill="#111"/>
<circle cx="597.90" cy="512.20" r="1.6" fill="#111"/>
<circle cx="605.10" cy="512.20" r="1.6" fill="#111"/>
<circle cx="612.30" cy="512.20" r="1.6" fill="#111"/>
<circle cx="619.70" cy="512.20" r="1.6" fill="#111"/>
<circle cx="626.60" cy="516.50" r="1.6" fill="#111"/>
<circle cx="633.80" cy="521.30" r="1.6" fill="#111"/>
<circle cx="641.20" cy="526.00" r="1.6" fill="#111"/>
<circle cx="495.64" cy="504.76" r="1.6" fill="#111"/>
<circle cx="500.30" cy="510.19" r="1.6" fill="#111"/>
<circle cx="506.28" cy="511.24" r="1.6" fill="#111"/>
<circle cx="513.16" cy="509.27" r="1.6" fill="#111"/>
<circle cx="520.04" cy="507.31" r="1.6" fill="#111"/>
<circle cx="526.92" cy="505.35" r="1.6" fill="#111"/>
<circle cx="533.80" cy="504.40" r="1.6" fill="#111"/>
<circle cx="540.69" cy="506.32" r="1.6" fill="#111"/>
<circle cx="547.59" cy="508.24" r="1.6" fill="#111"/>
<circle cx="649.17" cy="526.46" r="1.6" fill="#111"/>
<circle cx="472.40" cy="477.70" r="4.8" fill="#111" stroke="#111" stroke-width="1.3"/>
<circle cx="502.20" cy="477.40" r="4.8" fill="#111" stroke="#111" stroke-width="1.3"/>
<circle cx="532.00" cy="492.40" r="4.8" fill="#111" stroke="#111" stroke-width="1.3"/>
<circle cx="561.80" cy="496.50" r="4.8" fill="#111" stroke="#111" stroke-width="1.3"/>
<circle cx="591.60" cy="525.90" r="4.8" fill="#111" stroke="#111" stroke-width="1.3"/>
<circle cx="621.40" cy="527.60" r="4.8" fill="#111" stroke="#111" stroke-width="1.3"/>
<circle cx="651.20" cy="527.60" r="4.8" fill="#111" stroke="#111" stroke-width="1.3"/>
<circle cx="472.40" cy="477.70" r="4.7" fill="#fff" stroke="#111" stroke-width="1.3"/>
<circle cx="502.20" cy="491.40" r="4.7" fill="#fff" stroke="#111" stroke-width="1.3"/>
<circle cx="532.00" cy="477.70" r="4.7" fill="#fff" stroke="#111" stroke-width="1.3"/>
<circle cx="561.80" cy="491.20" r="4.7" fill="#fff" stroke="#111" stroke-width="1.3"/>
<circle cx="591.60" cy="491.20" r="4.7" fill="#fff" stroke="#111" stroke-width="1.3"/>
<circle cx="621.40" cy="491.20" r="4.7" fill="#fff" stroke="#111" stroke-width="1.3"/>
<circle cx="651.20" cy="498.00" r="4.7" fill="#fff" stroke="#111" stroke-width="1.3"/>
<polyline points="472.40,477.70 502.20,445.80 532.00,453.80 561.80,458.20 591.60,501.00 621.40,489.30 651.20,487.60" fill="none" stroke="#111" stroke-width="1.3" stroke-dasharray="30.77 8.50 25.09 8.50 21.39 8.50 25.82 8.50 24.87 8.50 22.73 8.50 21.98 1000.00" stroke-dashoffset="0" stroke-linecap="butt" stroke-linejoin="round"/>
<line x1="115.30" y1="14.20" x2="115.30" y2="583.00" stroke="#6a6a6a" stroke-width="1.1" stroke-dasharray="16.2 6.0"/>
<line x1="473.30" y1="25.20" x2="473.30" y2="584.80" stroke="#6a6a6a" stroke-width="1.1" stroke-dasharray="16.2 6.0"/>
</svg></body></html>
